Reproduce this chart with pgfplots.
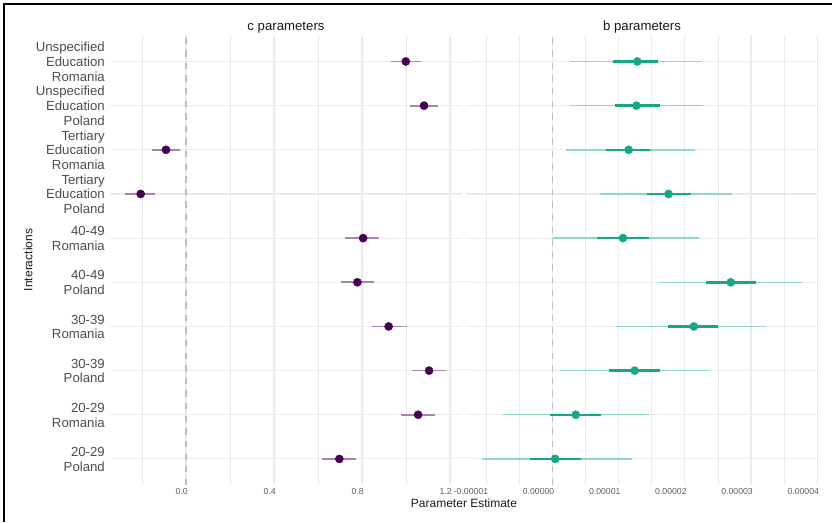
\documentclass[border=0pt]{standalone}
\usepackage{fontspec}
\setmainfont{Liberation Sans}
\usepackage{pgfplots}
\usepackage{pgfplotstable}
\pgfplotsset{compat=1.18}

\definecolor{cpt}{HTML}{440154}
\definecolor{cline}{HTML}{A885AE}
\definecolor{bpt}{HTML}{16A884}
\definecolor{bthin}{HTML}{93D6C4}
\definecolor{gridc}{HTML}{EBEBEB}
\definecolor{ytxt}{HTML}{4D4D4D}
\definecolor{xtxt}{HTML}{5E5E5E}
\definecolor{ttl}{HTML}{1A1A1A}
\definecolor{zeroc}{HTML}{BDBDBD}

\pgfplotstableread{
y x lo hi
10 0.999 0.930 1.070
9 1.082 1.020 1.145
8 -0.091 -0.156 -0.026
7 -0.206 -0.276 -0.140
6 0.805 0.724 0.876
5 0.779 0.703 0.853
4 0.921 0.845 1.003
3 1.105 1.027 1.180
2 1.055 0.977 1.132
1 0.697 0.620 0.774
}\cdata

% b parameters in units of 1e-5
\pgfplotstableread{
y x lo1 hi1 lo2 hi2
10 1.282 0.920 1.588 0.261 2.262
9 1.267 0.944 1.618 0.266 2.272
8 1.151 0.814 1.478 0.200 2.146
7 1.754 1.427 2.086 0.718 2.715
6 1.065 0.668 1.457 0.000 2.207
5 2.694 2.323 3.077 1.603 3.771
4 2.136 1.744 2.504 0.955 3.232
3 1.241 0.860 1.629 0.110 2.362
2 0.351 -0.045 0.729 -0.750 1.452
1 0.040 -0.342 0.427 -1.066 1.200
}\bdata

\newcommand{\lab}[1]{\begin{tabular}{@{}r@{}}#1\end{tabular}}

\pgfplotsset{
  panel/.style={
    scale only axis, anchor=south west,
    height=450pt, width=352pt,
    ymin=0.41, ymax=10.6,
    axis line style={draw=none},
    tick style={draw=none},
    ytick={1,...,10},
    grid=both,
    major grid style={color=gridc, line width=1.1pt},
    minor grid style={color=gridc, line width=0.6pt},
    xticklabel style={font=\fontsize{8.7}{10}\selectfont, text=xtxt, anchor=north east, inner sep=0pt, xshift=2pt, yshift=-3pt},
    clip=false,
  }
}

\begin{document}
\begin{tikzpicture}
\path[use as bounding box] (0pt,0pt) rectangle (832pt,522pt);
\draw[line width=2pt, black] (4.3pt,0pt) -- (4.3pt,518.3pt) -- (832pt,518.3pt);

% left panel: c parameters
\begin{axis}[panel,
  at={(110pt,37pt)},
  xmin=-0.3455, xmax=1.2545,
  xtick={0,0.4,0.8,1.2}, xticklabels={0.0,0.4,0.8,1.2},
  minor xtick={-0.2,0.2,0.6,1.0},
  yticklabel style={font=\fontsize{13.2}{14.6}\selectfont, text=ytxt, inner sep=0pt, xshift=-5pt, yshift=-2pt, anchor=east},
  yticklabels={
    {\lab{20-29\hspace{3.6pt}\\Poland}},
    {\lab{20-29\hspace{3.6pt}\\Romania}},
    {\lab{30-39\hspace{3.6pt}\\Poland}},
    {\lab{30-39\hspace{3.6pt}\\Romania}},
    {\lab{40-49\hspace{3.6pt}\\Poland}},
    {\lab{40-49\hspace{3.6pt}\\Romania}},
    {\lab{Tertiary\\Education\\Poland}},
    {\lab{Tertiary\\Education\\Romania}},
    {\lab{Unspecified\\Education\\Poland}},
    {\lab{Unspecified\\Education\\Romania}}
  },
]
\addplot[zeroc, line width=1.6pt, dash pattern=on 6.3pt off 6.3pt] coordinates {(0,0.41) (0,10.6)};
\addplot[cline, line width=1.7pt, mark=none,
  quiver={u=\thisrow{hi}-\thisrow{lo}, v=0}]
  table[x=lo, y=y] {\cdata};
\addplot[only marks, mark=*, mark size=4.1pt, cpt, mark options={draw=cpt, fill=cpt}]
  table[x=x, y=y] {\cdata};
\node[anchor=base, font=\fontsize{13.2}{15}\selectfont, text=ttl] at (rel axis cs:0.5,1) [yshift=4.3pt] {c parameters};
\end{axis}

% right panel: b parameters
\begin{axis}[panel,
  at={(466pt,37pt)},
  xmin=-1.308, xmax=4.013,
  xtick={-1,0,1,2,3,4},
  xticklabels={-0.00001,0.00000,0.00001,0.00002,0.00003,0.00004},
  minor xtick={-0.5,0.5,1.5,2.5,3.5},
  yticklabels={,,,,,,,,,},
]
\addplot[zeroc, line width=1.6pt, dash pattern=on 6.3pt off 6.3pt] coordinates {(0,0.41) (0,10.6)};
\addplot[bthin, line width=1.4pt, mark=none,
  quiver={u=\thisrow{hi2}-\thisrow{lo2}, v=0}]
  table[x=lo2, y=y] {\bdata};
\addplot[bpt, line width=2.4pt, mark=none,
  quiver={u=\thisrow{hi1}-\thisrow{lo1}, v=0}]
  table[x=lo1, y=y] {\bdata};
\addplot[only marks, mark=*, mark size=4.1pt, bpt, mark options={draw=bpt, fill=bpt}]
  table[x=x, y=y] {\bdata};
\node[anchor=base, font=\fontsize{13.2}{15}\selectfont, text=ttl] at (rel axis cs:0.5,1) [yshift=4.3pt] {b parameters};
\end{axis}

\node[anchor=base, font=\fontsize{12}{14}\selectfont, text=ttl] at (464pt,14.3pt) {Parameter Estimate};
\node[rotate=90, anchor=center, font=\fontsize{12}{14}\selectfont, text=ttl] at (28pt,262pt) {Interactions};
\end{tikzpicture}
\end{document}
